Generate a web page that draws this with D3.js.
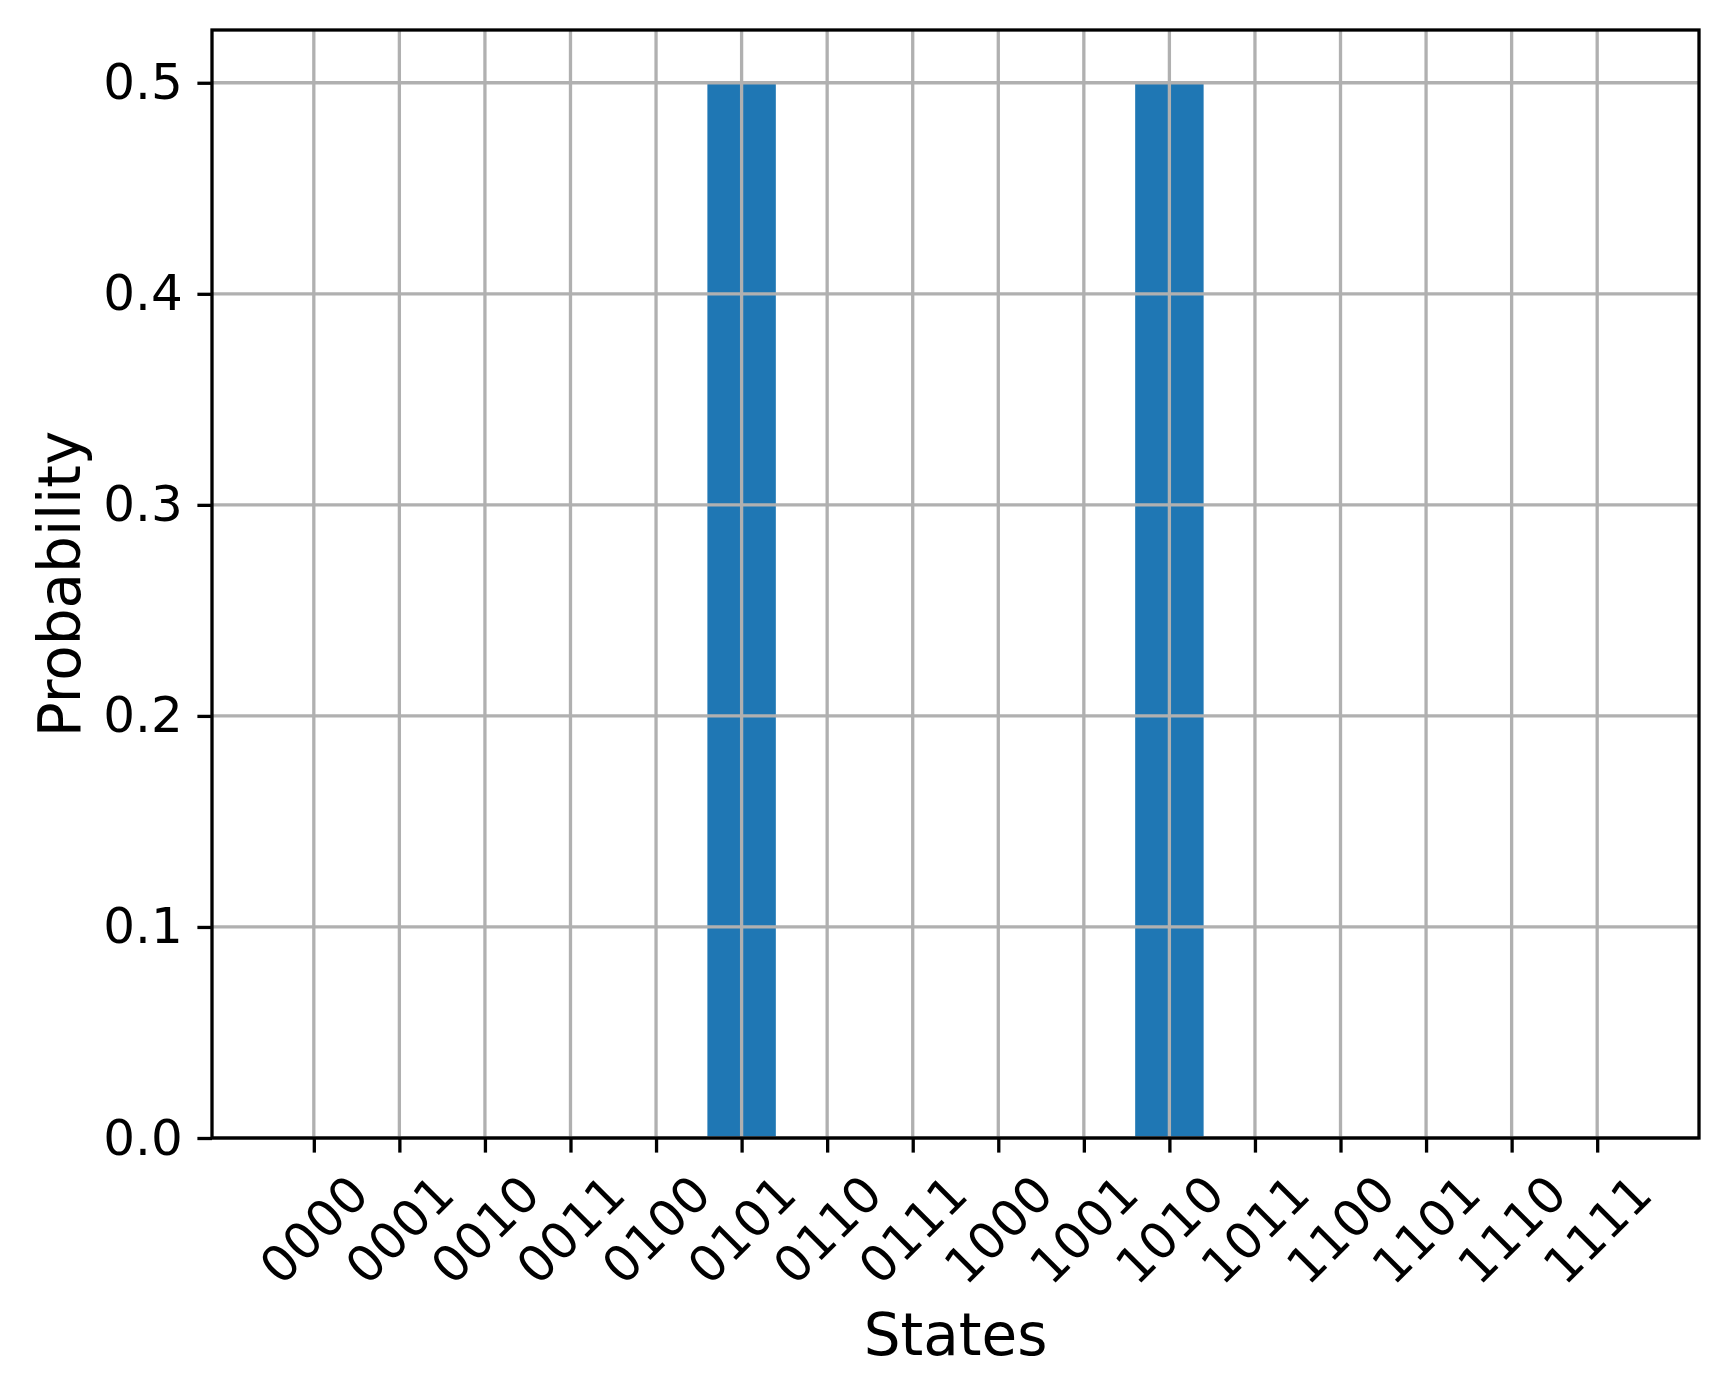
<!DOCTYPE html>
<html>
  <head>
    <style>
    body { margin: 0; background: #fff; }
    svg { display: block; font-family: "DejaVu Sans", sans-serif; }
    .axis path, .axis line { stroke: #000; stroke-width: 3.3px; }
    .axis text { fill: #000; font-size: 50px; font-family: "DejaVu Sans", sans-serif; }
    .grid line { stroke: #b0b0b0; stroke-width: 3.3px; }
    </style>
    <script src="https://d3js.org/d3.v7.min.js"></script>
  </head>
  <body>
    <script type="text/javascript">
    // data
    var states = ["0000","0001","0010","0011","0100","0101","0110","0111",
                  "1000","1001","1010","1011","1100","1101","1110","1111"];
    var probabilities = [0, 0, 0, 0, 0, 0.5, 0, 0, 0, 0, 0.5, 0, 0, 0, 0, 0];
    var yTicks = [0, 0.1, 0.2, 0.3, 0.4, 0.5];

    var W = 1730, H = 1395;
    var margin = {top: 30, right: 31, bottom: 257, left: 212};
    var width = W - margin.left - margin.right,
        height = H - margin.top - margin.bottom;

    var svg = d3.select("body").append("svg")
      .attr("width", W)
      .attr("height", H);

    var g = svg.append("g")
      .attr("transform", "translate(" + margin.left + "," + margin.top + ")");

    // x by index, with matplotlib-like margins around the 0.8 wide bars
    var xScale = d3.scaleLinear()
      .domain([-1.19, states.length - 1 + 1.19])
      .range([0, width]);
    var yScale = d3.scaleLinear()
      .domain([0, 0.525])
      .range([height, 0]);
    var barW = xScale(0.8) - xScale(0);

    // bars
    g.selectAll("rect.bar")
      .data(probabilities)
      .enter().append("rect")
      .attr("class", "bar")
      .attr("x", function(d, i) { return xScale(i) - barW / 2; })
      .attr("width", barW)
      .attr("y", function(d) { return yScale(d); })
      .attr("height", function(d) { return height - yScale(d); })
      .attr("fill", "#1f77b4");

    // grid lines on top of bars
    var grid = g.append("g").attr("class", "grid");
    grid.selectAll("line.v")
      .data(d3.range(states.length))
      .enter().append("line")
      .attr("x1", function(i) { return xScale(i); })
      .attr("x2", function(i) { return xScale(i); })
      .attr("y1", 0).attr("y2", height);
    grid.selectAll("line.h")
      .data(yTicks)
      .enter().append("line")
      .attr("x1", 0).attr("x2", width)
      .attr("y1", function(d) { return yScale(d); })
      .attr("y2", function(d) { return yScale(d); });

    // y axis
    var yAxis = g.append("g")
      .attr("class", "axis")
      .call(d3.axisLeft(yScale)
        .tickValues(yTicks)
        .tickFormat(d3.format(".1f"))
        .tickSize(14.6)
        .tickPadding(14.6)
        .tickSizeOuter(0));
    yAxis.select(".domain").remove();

    // x axis, labels rotated 45 and centred under the tick
    var xAxis = g.append("g")
      .attr("class", "axis")
      .attr("transform", "translate(0," + height + ")")
      .call(d3.axisBottom(xScale)
        .tickValues(d3.range(states.length))
        .tickFormat(function(i) { return states[i]; })
        .tickSize(14.6)
        .tickSizeOuter(0));
    xAxis.select(".domain").remove();
    xAxis.selectAll(".tick text")
      .attr("y", 0).attr("dy", null)
      .attr("dominant-baseline", "central")
      .attr("text-anchor", "middle")
      .attr("transform", "translate(0,92) rotate(-45)");

    // frame
    g.append("rect")
      .attr("width", width)
      .attr("height", height)
      .attr("fill", "none")
      .attr("stroke", "#000")
      .attr("stroke-width", 3.3);

    // axis titles
    svg.append("text")
      .attr("x", margin.left + width / 2)
      .attr("y", 1355)
      .attr("text-anchor", "middle")
      .style("font-size", "58px")
      .text("States");

    svg.append("text")
      .attr("transform", "translate(60," + (margin.top + height / 2) + ") rotate(-90)")
      .attr("text-anchor", "middle")
      .attr("dominant-baseline", "central")
      .style("font-size", "58px")
      .text("Probability");
    </script>
  </body>
</html>
